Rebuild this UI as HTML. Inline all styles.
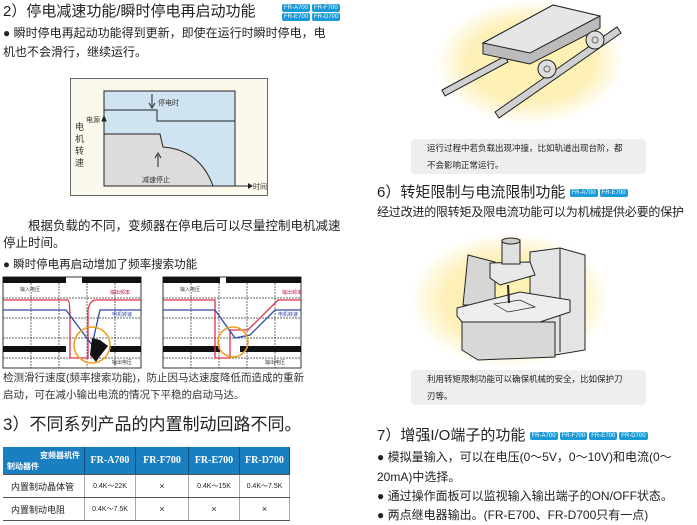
<!DOCTYPE html><html><head><meta charset="utf-8"><style>
body{margin:0;width:697px;height:525px;background:#fff;position:relative;overflow:hidden;font-family:"Liberation Sans","Noto Sans CJK SC",sans-serif;color:#222}
.a{position:absolute;white-space:nowrap;line-height:1}
.b{display:inline-block;background:#1a9ad6;color:#fff;font-size:6px;padding:1px 2px;border-radius:2px;margin-right:2px;vertical-align:middle}
table{border-collapse:collapse;position:absolute;left:3px;top:447px;font-size:9px}
td,th{border-bottom:1px solid #555;text-align:center;padding:0}
th{background:#1a7fc1;color:#fff;font-family:"Liberation Serif",serif;font-size:10px;height:27px;border-right:1px solid #0d4f80}
td{height:22px;border-right:1px solid #aaa}
.cap{position:absolute;left:411px;width:235px;height:35px;background:#eeeeee;border-radius:4px;font-size:8.5px;line-height:17px;padding:1px 0 0 16px;box-sizing:border-box}
</style></head><body>
<div class="a" style="left:3px;top:4px;font-size:15px">2）停电减速功能/瞬时停电再启动功能</div>
<div class="a" style="left:282px;top:0"><span class="b">FR-A700</span><span class="b">FR-F700</span></div>
<div class="a" style="left:282px;top:9px"><span class="b">FR-E700</span><span class="b">FR-D700</span></div>
<div class="a" style="left:3px;top:27px;font-size:12px">● 瞬时停电再起动功能得到更新，即使在运行时瞬时停电，电</div>
<div class="a" style="left:3px;top:46px;font-size:12px">机也不会滑行，继续运行。</div>
<svg class="a" style="left:0;top:0" width="697" height="525">
<rect x="70.5" y="78.5" width="197" height="117" fill="#fbf8ec" stroke="#666"/>
<rect x="104" y="91" width="131" height="95" fill="#cfe3f1" stroke="#222"/>
<path d="M104,134 H160 L163,147 Q200,150 213,186 H104Z" fill="#dcdcdc" stroke="#222"/>
<path d="M104,110 H157 V121 H235" fill="none" stroke="#222"/>
<path d="M235,186 H248" stroke="#222"/><path d="M248,183 L253,186 L248,189Z" fill="#222"/>
<path d="M152,94 V106 M149,103 L152,108 L155,103" stroke="#222" fill="none"/>
<path d="M158,167 V155 M155,158 L158,153 L161,158" stroke="#222" fill="none"/>
<path d="M104,124 V117 M102,121 L104,116 L106,121Z" stroke="#222" fill="#222"/>
<text x="158" y="105" font-size="7" fill="#333">停电时</text>
<text x="86" y="122" font-size="7" fill="#333">电源</text>
<text x="142" y="182" font-size="7" fill="#333">减速停止</text>
<text x="253" y="189" font-size="7" fill="#333">时间</text>
<text x="75" y="130" font-size="9" fill="#333">电</text><text x="75" y="142" font-size="9" fill="#333">机</text><text x="75" y="154" font-size="9" fill="#333">转</text><text x="75" y="166" font-size="9" fill="#333">速</text>
<g>
<rect x="3" y="277" width="138" height="91" fill="#fff" stroke="#333"/>
<g stroke="#333" stroke-dasharray="2,1" stroke-width="0.7">
<path d="M31,277V368M59,277V368M87,277V368M115,277V368M3,298H141M3,318H141M3,338H141M3,358H141"/></g>
<rect x="3" y="277" width="63" height="6" fill="#111"/><rect x="82" y="277" width="59" height="6" fill="#111"/>
<rect x="3" y="346" width="63" height="6" fill="#111"/><rect x="110" y="346" width="31" height="6" fill="#111"/>
</g>
<path d="M3,300H68Q70,300 70,320V358H88V310Q90,300 96,300H141" stroke="#e0304a" fill="none" stroke-width="1.3"/>
<path d="M3,310H66L92,345L100,310H141" stroke="#3048a8" fill="none" stroke-width="1.3"/>
<path d="M92,338 L100,340 L108,346 L100,356 L96,362 L90,355Z" fill="#111"/>
<circle cx="92" cy="345" r="18" fill="none" stroke="#f0a020" stroke-width="1.6"/>
<text x="20" y="291" font-size="5" fill="#333">输入电压</text><text x="110" y="294" font-size="5" fill="#c02050">输出频率</text><text x="112" y="316" font-size="5" fill="#3048a8">电机转速</text><text x="112" y="364" font-size="5" fill="#333">输出电压</text>
<g transform="translate(160,0)">
<rect x="3" y="277" width="138" height="91" fill="#fff" stroke="#333"/>
<g stroke="#333" stroke-dasharray="2,1" stroke-width="0.7">
<path d="M31,277V368M59,277V368M87,277V368M115,277V368M3,298H141M3,318H141M3,338H141M3,358H141"/></g>
<rect x="3" y="277" width="57" height="6" fill="#111"/><rect x="66" y="277" width="75" height="6" fill="#111"/>
<rect x="3" y="346" width="57" height="6" fill="#111"/><rect x="80" y="346" width="61" height="6" fill="#111"/>
<path d="M3,300H55V358H70V330H88L118,300H141" stroke="#e0304a" fill="none" stroke-width="1.3"/>
<path d="M3,310H55L75,338L90,335L115,310H141" stroke="#3048a8" fill="none" stroke-width="1.3"/>
<circle cx="73" cy="342" r="15" fill="none" stroke="#f0a020" stroke-width="1.6"/>
<text x="20" y="291" font-size="5" fill="#333">输入电压</text><text x="122" y="294" font-size="5" fill="#c02050">输出频率</text><text x="118" y="316" font-size="5" fill="#3048a8">电机转速</text><text x="105" y="364" font-size="5" fill="#333">输出电压</text>
</g>
<defs><radialGradient id="y"><stop offset="0" stop-color="#fff3b0"/><stop offset="0.65" stop-color="#fdf0b8"/><stop offset="1" stop-color="#fff"/></radialGradient></defs>
<ellipse cx="530" cy="62" rx="95" ry="62" fill="url(#y)"/>
<path d="M442,90 L505,56 L508,62 L445,96Z" fill="#d0d0d0" stroke="#222"/>
<path d="M495,112 L617,27 L621,33 L499,118Z" fill="#d0d0d0" stroke="#222"/>
<path d="M483,43 L553,5 L600,16 L600,28 L530,64 L483,54Z" fill="#bbb" stroke="#222"/>
<path d="M483,43 L553,5 L600,16 L530,53Z" fill="#e6e6e6" stroke="#222"/>
<circle cx="547" cy="69" r="9" fill="#ddd" stroke="#222"/><circle cx="547" cy="69" r="3" fill="none" stroke="#666"/>
<circle cx="595" cy="40" r="9" fill="#ddd" stroke="#222"/><circle cx="595" cy="40" r="3" fill="none" stroke="#666"/>
<ellipse cx="510" cy="300" rx="100" ry="68" fill="url(#y)"/>
<path d="M530,252 L560,248 L585,255 L585,350 L555,355 L530,350Z" fill="#e4e4e4" stroke="#222"/>
<path d="M560,248 L560,352" stroke="#222"/>
<path d="M468,255 L495,262 L495,305 L463,305Z" fill="#d6d6d6" stroke="#222"/>
<path d="M462,322 L555,322 L555,357 L478,360 L462,350Z" fill="#d8d8d8" stroke="#222"/>
<path d="M457,308 L520,292 L570,300 L570,312 L540,322 L462,322 L457,316Z" fill="#eee" stroke="#222"/>
<path d="M490,263 L530,262 L535,275 L500,285 L490,278Z" fill="#e8e8e8" stroke="#222"/>
<rect x="502" y="240" width="18" height="24" fill="#e0e0e0" stroke="#222"/>
<ellipse cx="511" cy="241" rx="9" ry="3" fill="#ccc" stroke="#222"/>
<path d="M508,285 L509,303" stroke="#222" stroke-width="2"/>
<path d="M494,304 L520,300 L535,307 L508,312Z" fill="none" stroke="#222" stroke-width="0.7"/>
</svg>
<div class="a" style="left:3px;top:218px;font-size:12.5px;line-height:17px;white-space:normal;width:345px">&emsp;&emsp;根据负载的不同，变频器在停电后可以尽量控制电机减速停止时间。</div>
<div class="a" style="left:3px;top:260px;font-size:11.5px">●&nbsp;瞬时停电再启动增加了频率搜索功能</div>
<div class="a" style="left:3px;top:373px;font-size:10.5px;color:#333">检测滑行速度(频率搜索功能)，防止因马达速度降低而造成的重新</div>
<div class="a" style="left:3px;top:390px;font-size:10.5px;color:#333">启动，可在减小输出电流的情况下平稳的启动马达。</div>
<div class="a" style="left:3px;top:416px;font-size:17px">3）不同系列产品的内置制动回路不同。</div>
<table><tr><th style="width:81px;font-family:'Liberation Sans','Noto Sans CJK SC',sans-serif;font-size:8px;text-align:left"><div style="text-align:right;padding-right:4px">变频器机件</div><div style="padding-left:4px">制动器件</div></th><th style="width:50px">FR-A700</th><th style="width:52px">FR-F700</th><th style="width:50px">FR-E700</th><th style="width:49px">FR-D700</th></tr>
<tr><td style="font-size:9px;text-align:left;padding-left:8px">内置制动晶体管</td><td style="font-size:7px">0.4K～22K</td><td>×</td><td style="font-size:7px">0.4K～15K</td><td style="font-size:7px">0.4K～7.5K</td></tr>
<tr><td style="font-size:9px;text-align:left;padding-left:8px">内置制动电阻</td><td style="font-size:7px">0.4K～7.5K</td><td>×</td><td>×</td><td>×</td></tr></table>
<div class="cap" style="top:139px">运行过程中若负载出现冲撞，比如轨道出现台阶，都<br>不会影响正常运行。</div>
<div class="a" style="left:377px;top:185px;font-size:15px">6）转矩限制与电流限制功能 <span class="b">FR-A700</span><span class="b">FR-E700</span></div>
<div class="a" style="left:377px;top:206px;font-size:12px;letter-spacing:-0.2px">经过改进的限转矩及限电流功能可以为机械提供必要的保护</div>
<div class="cap" style="top:370px">利用转矩限制功能可以确保机械的安全，比如保护刀<br>刃等。</div>
<div class="a" style="left:377px;top:428px;font-size:15px">7）增强I/O端子的功能 <span class="b">FR-A700</span><span class="b">FR-F700</span><span class="b">FR-E700</span><span class="b">FR-D700</span></div>
<div class="a" style="left:377px;top:451px;font-size:12px">● 模拟量输入，可以在电压(0～5V，0～10V)和电流(0～</div>
<div class="a" style="left:377px;top:471px;font-size:12px">20mA)中选择。</div>
<div class="a" style="left:377px;top:490px;font-size:12px">● 通过操作面板可以监视输入输出端子的ON/OFF状态。</div>
<div class="a" style="left:377px;top:509px;font-size:12px">● 两点继电器输出。(FR-E700、FR-D700只有一点)</div>
</body></html>
